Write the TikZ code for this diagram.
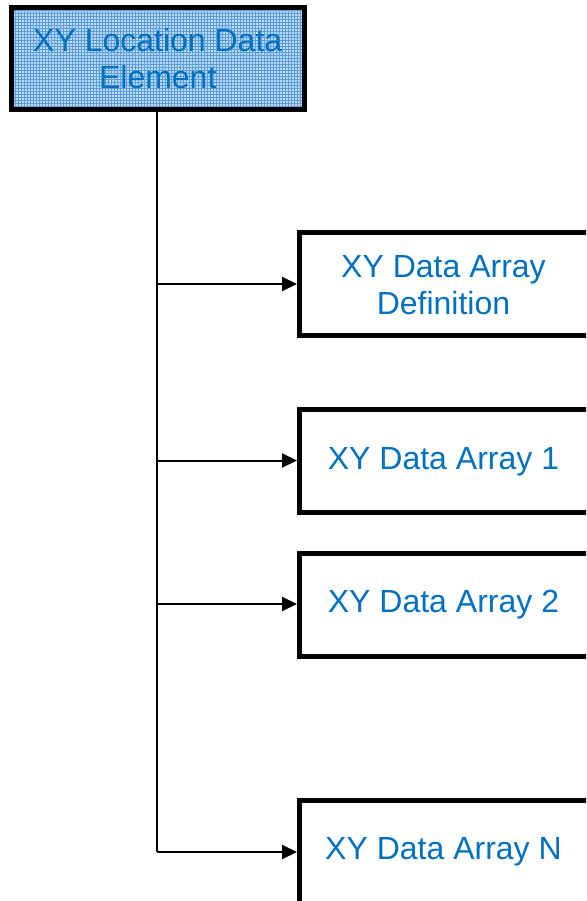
\documentclass[tikz,border=0pt]{standalone}
\usepackage{fontspec}
\setmainfont{Liberation Sans}
\usetikzlibrary{arrows.meta}
\definecolor{labelblue}{HTML}{0070C0}
\definecolor{gridbg}{HTML}{BCD9F4}
\definecolor{gridfg}{HTML}{5D9FDE}
\tikzset{
  labelfont/.style={text=labelblue, align=center, font=\fontsize{32}{37}\selectfont},
  box/.style={draw=black, line width=5pt, rectangle, inner sep=0pt},
  rootbox/.style={box, labelfont, fill=gridbg, minimum width=292.5pt, minimum height=102pt,
    path picture={\draw[gridfg, line width=0.9pt]
      (path picture bounding box.south west) grid[step=3pt]
      (path picture bounding box.north east);}},
  childbox/.style={box, fill=white, minimum width=300pt, minimum height=102.5pt, anchor=west},
  trunk/.style={draw=black, line width=2pt},
  branch/.style={draw=black, line width=2pt, -{Triangle[length=15pt,width=14pt]}}
}
\begin{document}
\begin{tikzpicture}[x=1pt,y=-1pt]
  \useasboundingbox (0,0) rectangle (586,901);
  \clip (0,0) rectangle (586,901);
  \fill[white] (0,0) rectangle (586,901);

  % root element
  \node[rootbox] (root) at (157.75,58.5) {XY Location Data\\Element};

  % child elements (their right sides, and the last one's bottom, run past the page edge)
  \node[childbox] (def) at (297,283.75) {};
  \node[childbox] (a1) at (297,460.75) {};
  \node[childbox] (a2) at (297,604.75) {};
  \node[childbox, minimum height=130pt, anchor=north west] (an) at (297,798) {};

  \node[labelfont] (deflabel) at (443.5,285) {XY Data Array\\Definition};
  \node[labelfont] (a1label) at (443.5,461.5) {XY Data Array 1};
  \node[labelfont] (a2label) at (443.5,605) {XY Data Array 2};
  \node[labelfont] (anlabel) at (443.5,852) {XY Data Array N};

  % trunk and branches
  \coordinate (tdef) at (157,284);
  \coordinate (t1) at (157,460.5);
  \coordinate (t2) at (157,604);
  \coordinate (tn) at (157,852);
  \draw[trunk] (root.south -| tn) -- (tn);
  \draw[branch] (tdef) -- (tdef -| def.west);
  \draw[branch] (t1) -- (t1 -| a1.west);
  \draw[branch] (t2) -- (t2 -| a2.west);
  \draw[branch] (tn) -- (tn -| an.west);
\end{tikzpicture}
\end{document}
